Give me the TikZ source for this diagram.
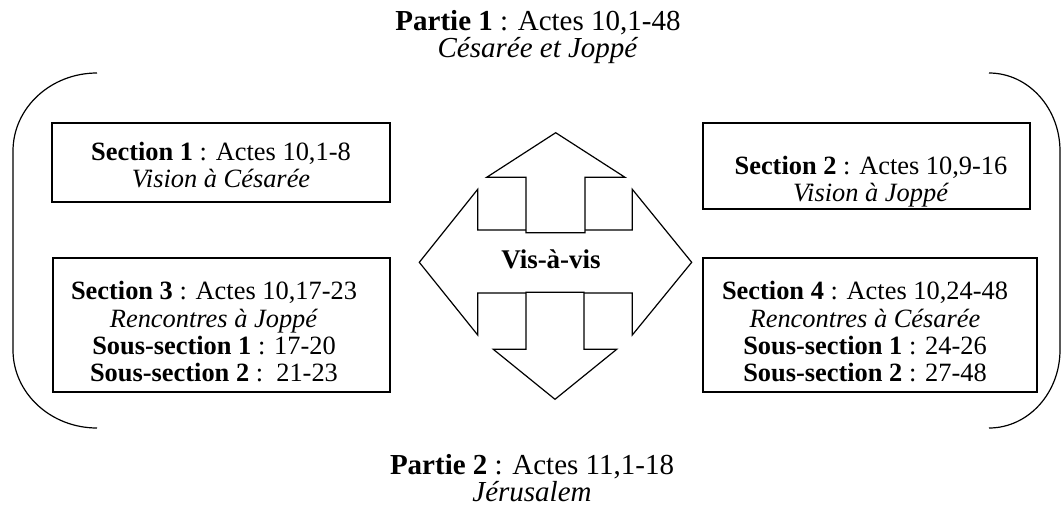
\documentclass[tikz,border=0pt]{standalone}
\usepackage{fontspec}
\setmainfont{Liberation Serif}
\usepackage{tikz}

\begin{document}
\begin{tikzpicture}[x=0.5pt, y=-0.5pt, font=\fontsize{13.2}{13.65}\selectfont]
		\tikzstyle{frame} = [rectangle, draw=black, line width=0.8pt, inner sep=0pt]
		\tikzstyle{txt} = [align=center, anchor=base, inner sep=0pt]
		\tikzstyle{title} = [txt, font=\fontsize{14.5}{13.65}\selectfont]
		\tikzstyle{bracket} = [draw=black, line width=0.6pt]
		\tikzstyle{block} = [draw=black, fill=white, line width=0.6pt, line join=miter]
		%-------------------------------------------------------
		% page size
		\useasboundingbox (0,0) rectangle (1062,515);
		
		% titles (base = last line)
		\node (p1) [title] at (538,57.3) {\textbf{Partie 1} : Actes 10,1-48 \\ \textit{Césarée et Joppé}};
		\node (p2) [title] at (532,501.7) {\textbf{Partie 2} : Actes 11,1-18 \\ \textit{Jérusalem}};
		
		% brackets
		\draw [bracket] (97,73) .. controls (50.6,73) and (13,108) .. (13,151) -- (13,350) .. controls (13,393) and (50.6,428) .. (97,428);
		\draw [bracket] (989,73) .. controls (1028.2,73) and (1060,108) .. (1060,151) -- (1060,350) .. controls (1060,393) and (1028.2,428) .. (989,428);
		
		% boxes
		\node (f1) [frame, minimum width=169pt, minimum height=39.5pt] at (221,162.5) {};
		\node (f2) [frame, minimum width=163.5pt, minimum height=43pt] at (866.5,166) {};
		\node (f3) [frame, minimum width=168.5pt, minimum height=67pt] at (221.3,325) {};
		\node (f4) [frame, minimum width=167pt, minimum height=67pt] at (870,325) {};
		
		\node (s1) [txt] at (221,187.6) {\textbf{Section 1} : Actes 10,1-8 \\ \textit{Vision à Césarée}};
		\node (s2) [txt] at (871,201.7) {\textbf{Section 2} : Actes 10,9-16 \\ \textit{Vision à Joppé}};
		\node (s3) [txt] at (214,381.7) {\textbf{Section 3} : Actes 10,17-23 \\ \textit{Rencontres à Joppé} \\
			\textbf{Sous-section 1} : 17-20 \\ \textbf{Sous-section 2} :\ \ 21-23};
		\node (s4) [txt] at (865,381.7) {\textbf{Section 4} : Actes 10,24-48 \\ \textit{Rencontres à Césarée} \\
			\textbf{Sous-section 1} : 24-26 \\ \textbf{Sous-section 2} : 27-48};
		
		% four-way arrow
		\draw [block] (419.3,262.3) -- (477.7,189.3) -- (477.7,230) -- (632.3,230) -- (632.3,189.3) -- (691.7,262.3)
			-- (632.3,335) -- (632.3,293) -- (477.7,293) -- (477.7,335) -- cycle;
		\draw [block] (526,232.7) -- (526,177.3) -- (486.7,177.3) -- (555.7,132.7) -- (625,177.3) -- (585,177.3) -- (585,232.7) -- cycle;
		\draw [block] (526,292.3) -- (584,292.3) -- (584,349.3) -- (616.7,349.3) -- (555,399.3) -- (493.3,349.3) -- (526,349.3) -- cycle;
		\node (vav) [txt, font=\fontsize{13.5}{13.65}\bfseries] at (551,268.3) {Vis-à-vis};
		\end{tikzpicture}
\end{document}
